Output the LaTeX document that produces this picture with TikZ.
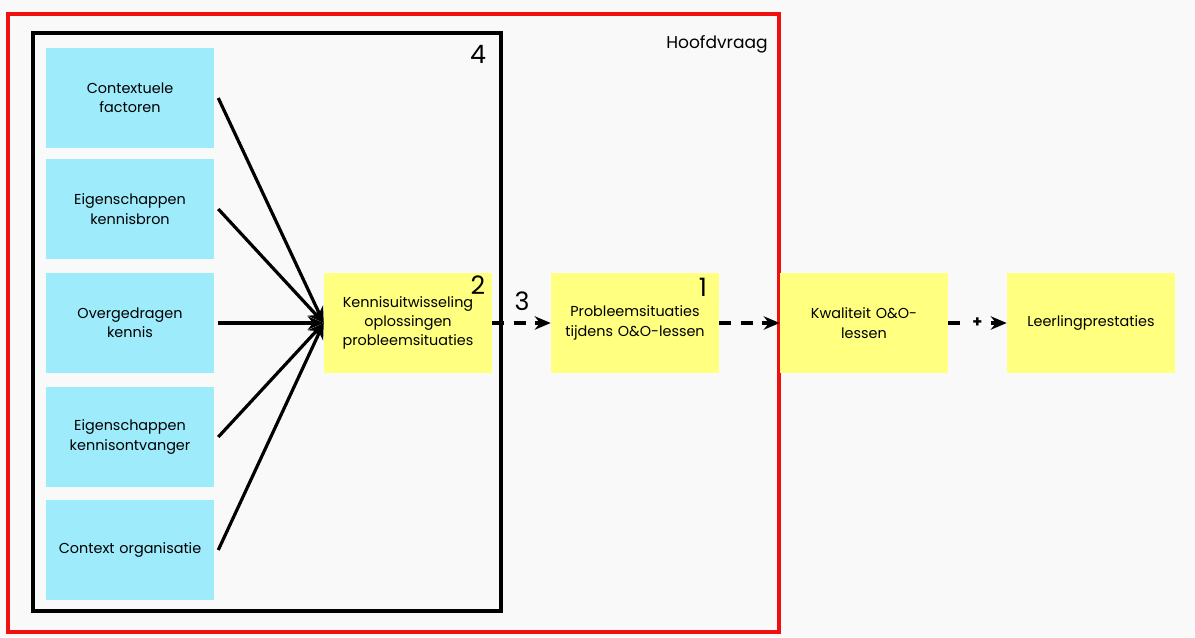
\documentclass[tikz,border=0pt]{standalone}
\usepackage{fontspec}
\setmainfont{Poppins}
\usetikzlibrary{arrows.meta,positioning}
\definecolor{bggray}{HTML}{F9F9F9}
\definecolor{factorblue}{HTML}{9DEBFB}
\definecolor{stickyyellow}{HTML}{FFFF80}
\definecolor{framered}{HTML}{F01010}

\begin{document}
\begin{tikzpicture}[x=0.75pt,y=-0.75pt]
		\tikzstyle{factor} = [fill=factorblue, minimum width=126pt, minimum height=75pt, text width=122pt, align=center, font=\fontsize{10.8}{14.5}\selectfont, inner sep=0pt]
		\tikzstyle{sticky} = [fill=stickyyellow, minimum width=126pt, minimum height=75pt, text width=124pt, align=center, font=\fontsize{10.8}{14.5}\selectfont, inner sep=0pt]
		\tikzstyle{number} = [font=\fontsize{19}{21}\selectfont, inner sep=0pt]
		\tikzstyle{link} = [line width=2.4pt, -{Stealth[length=12pt,width=10pt]}]
		\tikzstyle{dashlink} = [link, dash pattern=on 9pt off 7pt]

		% background and frames
		\fill[bggray] (0,0) rectangle (1195,637);
		\draw[framered, line width=2.6pt] (8,14) rectangle (779,632);
		\draw[line width=2.6pt] (33,33) rectangle (501,611);
		\node[font=\fontsize{12.8}{15}\selectfont, inner sep=0pt] (hoofdvraag) at (717,44) {Hoofdvraag};
		\node[number] (num-4) at (478,54) {4};

		% factors
		\foreach \name / \y / \txt in {context/98/{Contextuele\\factoren}, bron/209/{Eigenschappen\\kennisbron}, kennis/323/{Overgedragen\\kennis}, ontvanger/437/{Eigenschappen\\kennisontvanger}, organisatie/550/{Context organisatie}}
			\node[factor] (factor-\name) at (130,\y) {\txt};

		% chain
		\node[sticky] (uitwisseling) at (408,323) {Kennisuitwisseling\\oplossingen\\probleemsituaties};
		\node[sticky] (situaties) at (635,323) {Probleemsituaties\\tijdens O\&O-lessen};
		\node[sticky] (kwaliteit) at (864,323) {Kwaliteit O\&O-\\lessen};
		\node[sticky] (prestaties) at (1091,323) {Leerlingprestaties};

		% numbers
		\node[number] (num-2) at (478,285) {2};
		\node[number] (num-1) at (703,287) {1};
		\node[number] (num-3) at (522,301) {3};

		% factor-exchange connections
		\foreach \name in {context, bron, kennis, ontvanger, organisatie}
			\draw[link] ([xshift=3pt]factor-\name.east) -- (uitwisseling.west);

		% dashed connections
		\draw[dashlink] (uitwisseling) -- (situaties);
		\draw[dashlink] (situaties) -- (kwaliteit);
		\draw[dashlink] (kwaliteit) -- node[fill=bggray, inner sep=2pt, font=\bfseries\fontsize{12}{14}\selectfont] (plus) {+} (prestaties);
	\end{tikzpicture}
\end{document}
